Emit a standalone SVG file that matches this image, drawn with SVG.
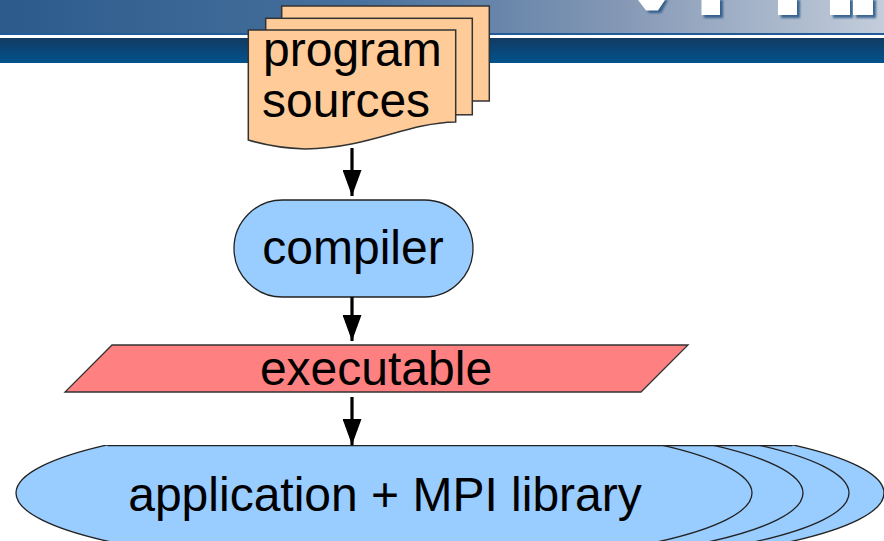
<svg xmlns="http://www.w3.org/2000/svg" width="884" height="541" viewBox="0 0 884 541">
<defs>
  <linearGradient id="bannerTop" x1="0" y1="0" x2="1" y2="0">
    <stop offset="0" stop-color="#2c5b8b"/>
    <stop offset="0.4" stop-color="#46709d"/>
    <stop offset="0.7" stop-color="#8498b5"/>
    <stop offset="1" stop-color="#c3cddb"/>
  </linearGradient>
  <linearGradient id="bannerBand" x1="0" y1="0" x2="0" y2="1">
    <stop offset="0" stop-color="#123a62"/>
    <stop offset="1" stop-color="#02538d"/>
  </linearGradient>
  <filter id="blur" x="-20%" y="-20%" width="140%" height="140%">
    <feGaussianBlur stdDeviation="1"/>
  </filter>
  <clipPath id="flatTop">
    <rect x="0" y="445" width="884" height="96"/>
  </clipPath>
  <marker id="arrow" viewBox="0 0 26 19" refX="26" refY="9.5" markerWidth="26" markerHeight="19" markerUnits="userSpaceOnUse" orient="auto">
    <path d="M0,0 L26,9.5 L0,19 Z" fill="#000"/>
  </marker>
</defs>
<style>
  .lbl { font-family: "Liberation Sans", Arial, sans-serif; font-size: 48px; fill: #000; }
  .doc { fill: #ffcc99; stroke: #333; stroke-width: 1.5; }
  .blue { fill: #99ccff; stroke: #222; stroke-width: 1.3; }
  .conn { stroke: #000; stroke-width: 3.2; fill: none; }
</style>

<g id="banner">
  <rect x="0" y="0" width="884" height="34" fill="url(#bannerTop)"/>
  <rect x="0" y="33" width="884" height="2" fill="#1f5c98"/>
  <rect x="0" y="35" width="884" height="3" fill="#ffffff"/>
  <rect x="0" y="38" width="884" height="25" fill="url(#bannerBand)"/>
  <g fill="#1f4f80" opacity="0.8" filter="url(#blur)">
    <path d="M641,0 H668 L661,13 H649 Z"/>
    <rect x="704" y="0" width="19" height="18"/>
    <rect x="781" y="0" width="19" height="18"/>
    <rect x="833" y="0" width="20" height="18"/>
    <rect x="856" y="0" width="20" height="18"/>
  </g>
  <g fill="#ffffff">
    <path d="M638,0 H665 L658,10.5 H646 Z"/>
    <rect x="701.5" y="0" width="18.5" height="15"/>
    <rect x="778" y="0" width="19" height="15"/>
    <rect x="830" y="0" width="20" height="15"/>
    <rect x="853" y="0" width="20" height="15"/>
  </g>
</g>

<g id="program-sources">
  <rect class="doc" x="281.7" y="6" width="207.6" height="95"/>
  <rect class="doc" x="265.7" y="18.3" width="206.6" height="96.5"/>
  <path class="doc" d="M248.3,30 H455.7 V122 C405,123 370,148 305,149 Q275,148 248.3,140 Z"/>
  <text class="lbl" x="263" y="66">program</text>
  <text class="lbl" x="262" y="117">sources</text>
</g>

<g id="compiler">
  <rect class="blue" x="234" y="200" width="239" height="97" rx="48.5" ry="48.5"/>
  <text class="lbl" x="353" y="264" text-anchor="middle">compiler</text>
</g>

<g id="executable">
  <path d="M112,345 H688 L641,392 H65 Z" fill="#ff8080" stroke="#333" stroke-width="1.3"/>
  <text class="lbl" x="376" y="385" text-anchor="middle">executable</text>
</g>

<g id="application">
  <g clip-path="url(#flatTop)">
    <ellipse class="blue" cx="516" cy="493" rx="368" ry="73"/>
    <ellipse class="blue" cx="481" cy="493" rx="368" ry="73"/>
    <ellipse class="blue" cx="435" cy="493" rx="368" ry="73"/>
    <ellipse class="blue" cx="384" cy="493" rx="368" ry="73"/>
  </g>
  <line x1="107.5" y1="445.6" x2="792.5" y2="445.6" stroke="#222" stroke-width="1.3"/>
  <text class="lbl" x="385" y="511" text-anchor="middle">application + MPI library</text>
</g>

<g id="connectors">
  <line class="conn" x1="352" y1="148" x2="352" y2="196" marker-end="url(#arrow)"/>
  <line class="conn" x1="352" y1="297" x2="352" y2="341" marker-end="url(#arrow)"/>
  <line class="conn" x1="352" y1="397" x2="352" y2="445" marker-end="url(#arrow)"/>
</g>
</svg>
